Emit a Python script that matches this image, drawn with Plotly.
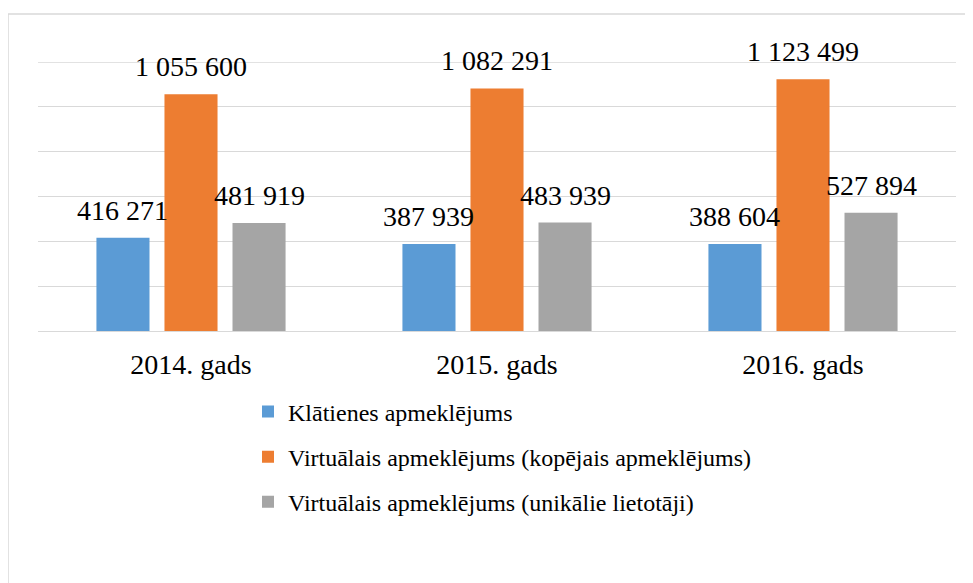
import plotly.graph_objects as go

categories = ["2014. gads", "2015. gads", "2016. gads"]
series_names = [
    "Klātienes apmeklējums",
    "Virtuālais apmeklējums (kopējais apmeklējums)",
    "Virtuālais apmeklējums (unikālie lietotāji)",
]
klatienes = [416271, 387939, 388604]
virtualais_kopejais = [1055600, 1082291, 1123499]
virtualais_unikalie = [481919, 483939, 527894]
colors = ["#5B9BD5", "#ED7D31", "#A5A5A5"]
grid_values = [0, 200000, 400000, 600000, 800000, 1000000, 1200000]

FONT = "Liberation Serif, Times New Roman, serif"

# page shows the figure with an 8px body margin, so everything is laid out 8px up/left
OFF = 8
W, H = 973 - OFF, 583 - OFF
L, R, T = 38 - OFF, 17, 62 - OFF
B = H - (330.7 - OFF)
pw = W - L - R
ph = H - T - B
BARGAP = 0.333
BARGROUPGAP = 0.22


def px_x(x):
    return (x - OFF - L) / pw


def px_y(y):
    return (H - B - (y - OFF)) / ph


all_series = [klatienes, virtualais_kopejais, virtualais_unikalie]
fig = go.Figure()
for i, (name, vals) in enumerate(zip(series_names, all_series)):
    fig.add_trace(go.Bar(
        x=categories, y=vals, name=name,
        marker=dict(color=colors[i], line=dict(width=0)),
        legendgroup=f"g{i}",
    ))

# data labels above each bar, placed on the data scales
slot_px = (pw / len(categories)) * (1 - BARGAP) / len(all_series)
annotations = []
for i, vals in enumerate(all_series):
    for cat, v in zip(categories, vals):
        annotations.append(dict(
            x=cat, y=v, xref="x", yref="y",
            text=f"{v:,}".replace(",", " "),
            showarrow=False, xanchor="center", yanchor="bottom",
            xshift=(i - 1) * slot_px, yshift=10,
            font=dict(family=FONT, size=28, color="#000000"),
        ))

shapes = [dict(
    type="rect", xref="paper", yref="paper",
    x0=px_x(8), x1=px_x(990), y0=px_y(600), y1=px_y(14),
    line=dict(color="#D9D9D9", width=1.5), fillcolor="rgba(0,0,0,0)",
    layer="below",
)]
# top gridline (plotly omits the gridline sitting on the plot edge)
shapes.append(dict(
    type="line", xref="paper", yref="y", x0=0, x1=1,
    y0=grid_values[-1], y1=grid_values[-1],
    line=dict(color="#D9D9D9", width=1.3), layer="below",
))

fig.update_layout(
    width=W, height=H,
    margin=dict(l=L, r=R, t=T, b=B, pad=0),
    paper_bgcolor="white", plot_bgcolor="white",
    barmode="group", bargap=BARGAP, bargroupgap=BARGROUPGAP,
    font=dict(family=FONT, size=28, color="#000000"),
    showlegend=True,
    legend=dict(
        orientation="v", x=px_x(248), xanchor="left", y=px_y(389), yanchor="top",
        font=dict(family=FONT, size=24, color="#000000"),
        tracegroupgap=11, bgcolor="rgba(0,0,0,0)",
    ),
    xaxis=dict(
        showgrid=False, showline=False, zeroline=False,
        ticks="", ticklabelstandoff=14,
        tickfont=dict(family=FONT, size=28, color="#000000"),
    ),
    yaxis=dict(
        range=[0, grid_values[-1]], tickvals=grid_values,
        showticklabels=False,
        showgrid=True, gridcolor="#D9D9D9", gridwidth=1.3,
        zeroline=True, zerolinecolor="#D9D9D9", zerolinewidth=1.3,
        showline=False, ticks="",
    ),
    annotations=annotations,
    shapes=shapes,
)

fig.write_html("out.html")
